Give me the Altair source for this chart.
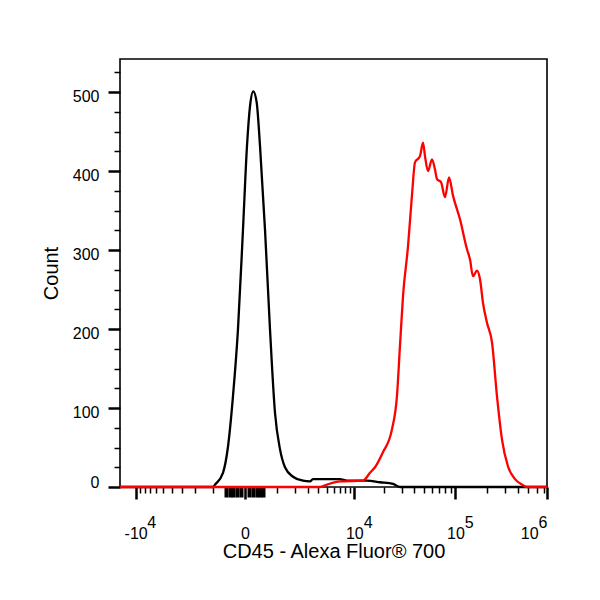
import altair as alt
import pandas as pd

# ---- data (fluorescence value, count) ----
black_value = [-14500, -1017, -931, -620, -452, -301, -166, -45, 45, 116, 200, 292, 390,
               551, 730, 931, 1154, 1404, 1865, 2568, 3160, 3442, 7030, 8365, 13520,
               18300, 24700, 28900, 751000]
black_count = [0, 0, 3, 18, 51, 115, 200, 326, 432, 482, 501, 487, 432,
               326, 200, 94, 48, 25, 13, 8, 7, 10, 10, 8, 8,
               6, 4, 0, 0]

red_value = [-14500, 4180, 5040, 7030, 12300, 14500, 16300, 19600, 24100, 27000, 28900,
             31000, 34700, 37900, 40600, 45400, 48600, 50800, 54300, 59400, 63500,
             66400, 72600, 79300, 86700, 94700, 110600, 129100, 138000, 147400,
             161100, 172100, 183800, 200700, 224200, 250100, 279300, 318900,
             371900, 433900, 484000, 751000]
red_count = [0, 0, 3, 7, 8, 18, 25, 44, 73, 115, 178,
             242, 305, 369, 411, 419, 436, 419, 400, 415, 402,
             390, 386, 367, 392, 369, 339, 301, 288, 267,
             274, 263, 233, 208, 183, 115, 60, 26,
             10, 3, 0, 0]

# axis ticks and labels
x_domain = [-14500, 751000]
x_major = [-10000, 0, 10000, 100000, 751000]
x_label_base = ["-10", "0", "10", "10", "10"]
x_label_exp = ["4", "", "4", "5", "6"]
x_minor = [-9000, -8000, -7000, -6000, -5000, -4000, -3000, -2000, -1000,
           -500, -400, -300, -200, -100, 100, 200, 300, 400, 500,
           1000, 2000, 3000, 4000, 5000, 6000, 7000, 8000, 9000,
           20000, 30000, 40000, 50000, 60000, 70000, 80000, 90000,
           200000, 300000, 400000, 500000, 600000, 700000]
x_zero_block = [-500, -400, -300, -200, -100, 100, 200, 300, 400, 500]

y_domain = [0, 542]
y_major = [0, 100, 200, 300, 400, 500]
y_minor = [25, 50, 75, 125, 150, 175, 225, 250, 275, 325, 350, 375,
           425, 450, 475, 525]

x_title = "CD45 - Alexa Fluor® 700"
y_title = "Count"

FONT = "Liberation Sans"
NB = "\u00a0"
ZW = "\u200b"   # keeps the non-breaking spaces from being trimmed

# ---- build label expression (exponent on a raised line, shifted right) ----
parts = []
for i, (v, b, e) in enumerate(zip(x_major, x_label_base, x_label_exp)):
    if e == "":
        lines = ["", b]
    elif i == len(x_major) - 1:
        lines = [e, b + NB * 2 + ZW]          # flush-right label at the edge
    elif b.startswith("-"):
        lines = [ZW + NB * 7 + e, b]
    else:
        lines = [ZW + NB * 6 + e, b]
    parts.append(f"datum.value == {v} ? ['{lines[0]}', '{lines[1]}']")
x_label_expr = " : ".join(parts) + " : ''"

major_test_x = " || ".join(f"datum.value == {v}" for v in x_major)
zero_test_x = " || ".join(f"datum.value == {v}" for v in x_zero_block)

x_axis = alt.Axis(
    values=sorted(x_major + x_minor),
    labelExpr=x_label_expr,
    labelFont=FONT, labelFontSize=16, labelColor="black",
    labelLineHeight=11, labelPadding=15, labelFlush=True, labelOverlap=False,
    labelAngle=0,
    tickColor="black",
    tickSize={"condition": [{"test": major_test_x, "value": 12},
                            {"test": zero_test_x, "value": 10}],
              "value": 6},
    tickWidth={"condition": [{"test": major_test_x, "value": 2.5},
                             {"test": zero_test_x, "value": 4}],
               "value": 1.5},
    domain=False, grid=False,
    title=x_title, titleFont=FONT, titleFontSize=20, titleFontWeight="normal",
    titleColor="black", titlePadding=0,
)

y_axis = alt.Axis(
    values=sorted(y_major + y_minor),
    labelExpr="datum.value % 100 == 0 ? datum.label : ''",
    labelFont=FONT, labelFontSize=16, labelColor="black",
    labelPadding=9, labelOverlap=False,
    labelOffset={"condition": {"test": "datum.value == 0", "value": -5}, "value": 4},
    tickColor="black",
    tickSize={"condition": {"test": "datum.value % 100 == 0", "value": 12}, "value": 6},
    tickWidth={"condition": {"test": "datum.value % 100 == 0", "value": 2.5}, "value": 1.5},
    domain=False, grid=False,
    title=y_title, titleFont=FONT, titleFontSize=20, titleFontWeight="normal",
    titleColor="black", titlePadding=11,
)

x_scale = alt.Scale(type="symlog", constant=1000, domain=x_domain, nice=False, zero=False)
y_scale = alt.Scale(domain=y_domain, nice=False, zero=False)

df_black = pd.DataFrame({"value": black_value, "count": black_count})
df_red = pd.DataFrame({"value": red_value, "count": red_count})

black = alt.Chart(df_black).mark_line(
    color="black", strokeWidth=2.3, strokeJoin="round", interpolate="monotone"
).encode(
    x=alt.X("value:Q", scale=x_scale, axis=x_axis),
    y=alt.Y("count:Q", scale=y_scale, axis=y_axis),
)
red = alt.Chart(df_red).mark_line(
    color="#ff0000", strokeWidth=2.3, strokeJoin="round", interpolate="monotone"
).encode(
    x=alt.X("value:Q", scale=x_scale, axis=x_axis),
    y=alt.Y("count:Q", scale=y_scale, axis=y_axis),
)

chart = alt.layer(black, red).properties(
    width=427, height=428,
    autosize=alt.AutoSizeParams(type="none"),
    padding={"left": 112, "top": 51, "right": 45, "bottom": 100},
    background="white",
).configure_view(stroke="black", strokeWidth=1.6)

chart.save("out.html", embed_options={"renderer": "svg", "actions": False})
